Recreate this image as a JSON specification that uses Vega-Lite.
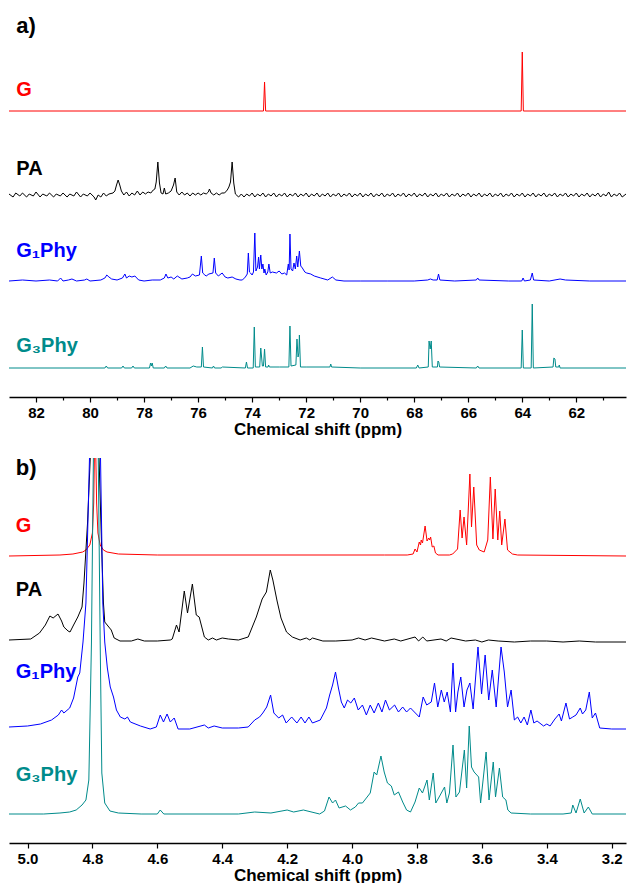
{
"$schema": "https://vega.github.io/schema/vega-lite/v6.json",
"autosize": {"type": "pad"},
"padding": {"left": 9, "top": 14, "right": 4, "bottom": 0},
"bounds": "flush",
"spacing": 61,
"config": {
  "view": {"stroke": null},
  "font": "Liberation Sans",
  "axis": {"grid": false, "domainColor": "#000000", "domainWidth": 1.5, "tickColor": "#000000", "tickWidth": 1.2,
    "labelFont": "Liberation Sans", "labelFontSize": 15, "labelFontWeight": "bold", "labelColor": "#000000", "labelPadding": 3,
    "titleFont": "Liberation Sans", "titleFontSize": 17, "titleFontWeight": "bold", "titleColor": "#000000", "titlePadding": 1}
},
"datasets": {
  "tags": [{"panel": "a", "t": "a)", "ppm": 82.73, "v": 371}, {"panel": "b", "t": "b)", "ppm": 5.036, "v": 375}],
  "labA": [{"s": "G", "t": "G", "ppm": 82.73, "v": 307}, {"s": "PA", "t": "PA", "ppm": 82.73, "v": 228}, {"s": "G1Phy", "t": "G₁Phy", "ppm": 82.73, "v": 146}, {"s": "G3Phy", "t": "G₃Phy", "ppm": 82.73, "v": 51}],
  "labB": [{"s": "G", "t": "G", "ppm": 5.036, "v": 317}, {"s": "PA", "t": "PA", "ppm": 5.036, "v": 253}, {"s": "G1Phy", "t": "G₁Phy", "ppm": 5.036, "v": 171}, {"s": "G3Phy", "t": "G₃Phy", "ppm": 5.036, "v": 68}],
  "specA": [
{"s":"G","ppm":83.0,"v":286},{"s":"G","ppm":73.58,"v":286},{"s":"G","ppm":73.54,"v":315},{"s":"G","ppm":73.5,"v":286},{"s":"G","ppm":64.04,"v":286},{"s":"G","ppm":64.0,"v":345},{"s":"G","ppm":63.96,"v":286},{"s":"G","ppm":60.16,"v":286},
{"s":"PA","ppm":83.0,"v":203},{"s":"PA","ppm":82.85,"v":200},{"s":"PA","ppm":82.75,"v":204},{"s":"PA","ppm":82.6,"v":201},{"s":"PA","ppm":82.5,"v":204},{"s":"PA","ppm":82.35,"v":200},{"s":"PA","ppm":82.25,"v":203},{"s":"PA","ppm":82.1,"v":201},{"s":"PA","ppm":82.0,"v":205},{"s":"PA","ppm":81.85,"v":200},{"s":"PA","ppm":81.75,"v":203},{"s":"PA","ppm":81.6,"v":201},{"s":"PA","ppm":81.5,"v":204},{"s":"PA","ppm":81.35,"v":200},{"s":"PA","ppm":81.25,"v":203},{"s":"PA","ppm":81.1,"v":201},{"s":"PA","ppm":81.0,"v":204},{"s":"PA","ppm":80.85,"v":200},{"s":"PA","ppm":80.75,"v":203},{"s":"PA","ppm":80.6,"v":201},{"s":"PA","ppm":80.5,"v":205},{"s":"PA","ppm":80.35,"v":200},{"s":"PA","ppm":80.25,"v":203},{"s":"PA","ppm":80.1,"v":201},{"s":"PA","ppm":80.0,"v":204},{"s":"PA","ppm":79.85,"v":200},{"s":"PA","ppm":79.79,"v":197},{"s":"PA","ppm":79.7,"v":202},{"s":"PA","ppm":79.6,"v":200},{"s":"PA","ppm":79.5,"v":204},{"s":"PA","ppm":79.4,"v":201},{"s":"PA","ppm":79.3,"v":203},{"s":"PA","ppm":79.15,"v":204},{"s":"PA","ppm":79.08,"v":206},{"s":"PA","ppm":79.02,"v":212},{"s":"PA","ppm":78.96,"v":217},{"s":"PA","ppm":78.9,"v":212},{"s":"PA","ppm":78.84,"v":206},{"s":"PA","ppm":78.75,"v":202},{"s":"PA","ppm":78.65,"v":205},{"s":"PA","ppm":78.55,"v":201},{"s":"PA","ppm":78.45,"v":204},{"s":"PA","ppm":78.35,"v":202},{"s":"PA","ppm":78.25,"v":206},{"s":"PA","ppm":78.15,"v":202},{"s":"PA","ppm":78.05,"v":205},{"s":"PA","ppm":77.95,"v":203},{"s":"PA","ppm":77.85,"v":205},{"s":"PA","ppm":77.75,"v":204},{"s":"PA","ppm":77.66,"v":207},{"s":"PA","ppm":77.6,"v":208},{"s":"PA","ppm":77.55,"v":215},{"s":"PA","ppm":77.49,"v":235},{"s":"PA","ppm":77.43,"v":214},{"s":"PA","ppm":77.37,"v":204},{"s":"PA","ppm":77.3,"v":203},{"s":"PA","ppm":77.25,"v":209},{"s":"PA","ppm":77.2,"v":203},{"s":"PA","ppm":77.1,"v":204},{"s":"PA","ppm":77.0,"v":206},{"s":"PA","ppm":76.91,"v":212},{"s":"PA","ppm":76.85,"v":219},{"s":"PA","ppm":76.79,"v":205},{"s":"PA","ppm":76.7,"v":202},{"s":"PA","ppm":76.6,"v":205},{"s":"PA","ppm":76.5,"v":202},{"s":"PA","ppm":76.4,"v":204},{"s":"PA","ppm":76.3,"v":201},{"s":"PA","ppm":76.2,"v":204},{"s":"PA","ppm":76.1,"v":202},{"s":"PA","ppm":76.0,"v":204},{"s":"PA","ppm":75.9,"v":202},{"s":"PA","ppm":75.8,"v":204},{"s":"PA","ppm":75.7,"v":203},{"s":"PA","ppm":75.62,"v":205},{"s":"PA","ppm":75.58,"v":208},{"s":"PA","ppm":75.52,"v":204},{"s":"PA","ppm":75.42,"v":202},{"s":"PA","ppm":75.32,"v":204},{"s":"PA","ppm":75.22,"v":202},{"s":"PA","ppm":75.12,"v":204},{"s":"PA","ppm":75.02,"v":204},{"s":"PA","ppm":74.92,"v":207},{"s":"PA","ppm":74.86,"v":210},{"s":"PA","ppm":74.8,"v":215},{"s":"PA","ppm":74.74,"v":235},{"s":"PA","ppm":74.68,"v":214},{"s":"PA","ppm":74.62,"v":203},{"s":"PA","ppm":74.5,"v":200},{"s":"PA","ppm":74.4,"v":203},{"s":"PA","ppm":74.3,"v":200},{"s":"PA","ppm":74.2,"v":203},{"s":"PA","ppm":74.1,"v":201},{"s":"PA","ppm":74.0,"v":204},{"s":"PA","ppm":73.9,"v":200},{"s":"PA","ppm":73.8,"v":203},{"s":"PA","ppm":73.7,"v":201},{"s":"PA","ppm":73.6,"v":204},{"s":"PA","ppm":73.5,"v":200},{"s":"PA","ppm":73.4,"v":203},{"s":"PA","ppm":73.3,"v":201},{"s":"PA","ppm":73.2,"v":204},{"s":"PA","ppm":73.1,"v":200},{"s":"PA","ppm":73.0,"v":203},{"s":"PA","ppm":72.9,"v":201},{"s":"PA","ppm":72.8,"v":204},{"s":"PA","ppm":72.7,"v":200},{"s":"PA","ppm":72.6,"v":203},{"s":"PA","ppm":72.5,"v":201},{"s":"PA","ppm":72.4,"v":204},{"s":"PA","ppm":72.3,"v":200},{"s":"PA","ppm":72.2,"v":203},{"s":"PA","ppm":72.1,"v":201},{"s":"PA","ppm":72.0,"v":204},{"s":"PA","ppm":71.9,"v":200},{"s":"PA","ppm":71.8,"v":203},{"s":"PA","ppm":71.7,"v":201},{"s":"PA","ppm":71.6,"v":204},{"s":"PA","ppm":71.5,"v":200},{"s":"PA","ppm":71.4,"v":203},{"s":"PA","ppm":71.3,"v":201},{"s":"PA","ppm":71.2,"v":204},{"s":"PA","ppm":71.1,"v":200},{"s":"PA","ppm":71.0,"v":203},{"s":"PA","ppm":70.9,"v":201},{"s":"PA","ppm":70.8,"v":204},{"s":"PA","ppm":70.7,"v":200},{"s":"PA","ppm":70.6,"v":203},{"s":"PA","ppm":70.5,"v":201},{"s":"PA","ppm":70.4,"v":204},{"s":"PA","ppm":70.3,"v":200},{"s":"PA","ppm":70.2,"v":203},{"s":"PA","ppm":70.1,"v":201},{"s":"PA","ppm":70.0,"v":204},{"s":"PA","ppm":69.9,"v":200},{"s":"PA","ppm":69.8,"v":203},{"s":"PA","ppm":69.7,"v":201},{"s":"PA","ppm":69.6,"v":204},{"s":"PA","ppm":69.5,"v":200},{"s":"PA","ppm":69.4,"v":203},{"s":"PA","ppm":69.3,"v":201},{"s":"PA","ppm":69.2,"v":204},{"s":"PA","ppm":69.1,"v":200},{"s":"PA","ppm":69.0,"v":203},{"s":"PA","ppm":68.9,"v":201},{"s":"PA","ppm":68.8,"v":204},{"s":"PA","ppm":68.7,"v":200},{"s":"PA","ppm":68.6,"v":203},{"s":"PA","ppm":68.5,"v":201},{"s":"PA","ppm":68.4,"v":204},{"s":"PA","ppm":68.3,"v":200},{"s":"PA","ppm":68.2,"v":203},{"s":"PA","ppm":68.1,"v":201},{"s":"PA","ppm":68.0,"v":204},{"s":"PA","ppm":67.9,"v":200},{"s":"PA","ppm":67.8,"v":203},{"s":"PA","ppm":67.7,"v":201},{"s":"PA","ppm":67.6,"v":204},{"s":"PA","ppm":67.5,"v":200},{"s":"PA","ppm":67.4,"v":203},{"s":"PA","ppm":67.3,"v":201},{"s":"PA","ppm":67.2,"v":204},{"s":"PA","ppm":67.1,"v":200},{"s":"PA","ppm":67.0,"v":203},{"s":"PA","ppm":66.9,"v":201},{"s":"PA","ppm":66.8,"v":204},{"s":"PA","ppm":66.7,"v":200},{"s":"PA","ppm":66.6,"v":203},{"s":"PA","ppm":66.5,"v":201},{"s":"PA","ppm":66.4,"v":204},{"s":"PA","ppm":66.3,"v":200},{"s":"PA","ppm":66.2,"v":203},{"s":"PA","ppm":66.1,"v":201},{"s":"PA","ppm":66.0,"v":204},{"s":"PA","ppm":65.9,"v":200},{"s":"PA","ppm":65.8,"v":203},{"s":"PA","ppm":65.7,"v":201},{"s":"PA","ppm":65.6,"v":204},{"s":"PA","ppm":65.5,"v":200},{"s":"PA","ppm":65.4,"v":203},{"s":"PA","ppm":65.3,"v":201},{"s":"PA","ppm":65.2,"v":204},{"s":"PA","ppm":65.1,"v":200},{"s":"PA","ppm":65.0,"v":203},{"s":"PA","ppm":64.9,"v":201},{"s":"PA","ppm":64.8,"v":204},{"s":"PA","ppm":64.7,"v":200},{"s":"PA","ppm":64.6,"v":203},{"s":"PA","ppm":64.5,"v":201},{"s":"PA","ppm":64.4,"v":204},{"s":"PA","ppm":64.3,"v":200},{"s":"PA","ppm":64.2,"v":203},{"s":"PA","ppm":64.1,"v":201},{"s":"PA","ppm":64.0,"v":204},{"s":"PA","ppm":63.9,"v":200},{"s":"PA","ppm":63.8,"v":203},{"s":"PA","ppm":63.7,"v":201},{"s":"PA","ppm":63.6,"v":204},{"s":"PA","ppm":63.5,"v":200},{"s":"PA","ppm":63.4,"v":203},{"s":"PA","ppm":63.3,"v":201},{"s":"PA","ppm":63.2,"v":204},{"s":"PA","ppm":63.1,"v":200},{"s":"PA","ppm":63.0,"v":203},{"s":"PA","ppm":62.9,"v":201},{"s":"PA","ppm":62.8,"v":204},{"s":"PA","ppm":62.7,"v":200},{"s":"PA","ppm":62.6,"v":203},{"s":"PA","ppm":62.5,"v":201},{"s":"PA","ppm":62.4,"v":204},{"s":"PA","ppm":62.3,"v":200},{"s":"PA","ppm":62.2,"v":203},{"s":"PA","ppm":62.1,"v":201},{"s":"PA","ppm":62.0,"v":204},{"s":"PA","ppm":61.9,"v":200},{"s":"PA","ppm":61.8,"v":203},{"s":"PA","ppm":61.7,"v":201},{"s":"PA","ppm":61.6,"v":204},{"s":"PA","ppm":61.5,"v":200},{"s":"PA","ppm":61.4,"v":203},{"s":"PA","ppm":61.3,"v":201},{"s":"PA","ppm":61.2,"v":204},{"s":"PA","ppm":61.1,"v":200},{"s":"PA","ppm":61.0,"v":203},{"s":"PA","ppm":60.9,"v":201},{"s":"PA","ppm":60.8,"v":205},{"s":"PA","ppm":60.7,"v":200},{"s":"PA","ppm":60.6,"v":203},{"s":"PA","ppm":60.5,"v":201},{"s":"PA","ppm":60.4,"v":204},{"s":"PA","ppm":60.3,"v":200},{"s":"PA","ppm":60.16,"v":203},
{"s":"G1Phy","ppm":83.0,"v":116},{"s":"G1Phy","ppm":82.5,"v":117},{"s":"G1Phy","ppm":82.0,"v":116},{"s":"G1Phy","ppm":81.5,"v":117},{"s":"G1Phy","ppm":81.2,"v":116},{"s":"G1Phy","ppm":81.09,"v":119},{"s":"G1Phy","ppm":81.0,"v":116},{"s":"G1Phy","ppm":80.8,"v":117},{"s":"G1Phy","ppm":80.67,"v":118},{"s":"G1Phy","ppm":80.5,"v":116},{"s":"G1Phy","ppm":80.2,"v":117},{"s":"G1Phy","ppm":80.12,"v":118},{"s":"G1Phy","ppm":80.0,"v":116},{"s":"G1Phy","ppm":79.6,"v":117},{"s":"G1Phy","ppm":79.45,"v":119},{"s":"G1Phy","ppm":79.38,"v":122},{"s":"G1Phy","ppm":79.3,"v":120},{"s":"G1Phy","ppm":79.2,"v":118},{"s":"G1Phy","ppm":79.0,"v":117},{"s":"G1Phy","ppm":78.8,"v":119},{"s":"G1Phy","ppm":78.71,"v":123},{"s":"G1Phy","ppm":78.65,"v":119},{"s":"G1Phy","ppm":78.55,"v":121},{"s":"G1Phy","ppm":78.45,"v":120},{"s":"G1Phy","ppm":78.34,"v":121},{"s":"G1Phy","ppm":78.2,"v":117},{"s":"G1Phy","ppm":78.0,"v":116},{"s":"G1Phy","ppm":77.7,"v":117},{"s":"G1Phy","ppm":77.4,"v":117},{"s":"G1Phy","ppm":77.25,"v":119},{"s":"G1Phy","ppm":77.19,"v":123},{"s":"G1Phy","ppm":77.12,"v":119},{"s":"G1Phy","ppm":77.0,"v":120},{"s":"G1Phy","ppm":76.9,"v":118},{"s":"G1Phy","ppm":76.77,"v":121},{"s":"G1Phy","ppm":76.6,"v":118},{"s":"G1Phy","ppm":76.4,"v":119},{"s":"G1Phy","ppm":76.3,"v":120},{"s":"G1Phy","ppm":76.21,"v":123},{"s":"G1Phy","ppm":76.1,"v":121},{"s":"G1Phy","ppm":75.95,"v":122},{"s":"G1Phy","ppm":75.88,"v":141},{"s":"G1Phy","ppm":75.83,"v":124},{"s":"G1Phy","ppm":75.75,"v":122},{"s":"G1Phy","ppm":75.7,"v":121},{"s":"G1Phy","ppm":75.6,"v":123},{"s":"G1Phy","ppm":75.45,"v":124},{"s":"G1Phy","ppm":75.4,"v":139},{"s":"G1Phy","ppm":75.35,"v":124},{"s":"G1Phy","ppm":75.25,"v":121},{"s":"G1Phy","ppm":75.11,"v":124},{"s":"G1Phy","ppm":75.0,"v":120},{"s":"G1Phy","ppm":74.9,"v":119},{"s":"G1Phy","ppm":74.74,"v":120},{"s":"G1Phy","ppm":74.6,"v":118},{"s":"G1Phy","ppm":74.45,"v":117},{"s":"G1Phy","ppm":74.36,"v":117},{"s":"G1Phy","ppm":74.25,"v":120},{"s":"G1Phy","ppm":74.18,"v":123},{"s":"G1Phy","ppm":74.14,"v":144},{"s":"G1Phy","ppm":74.1,"v":125},{"s":"G1Phy","ppm":74.06,"v":124},{"s":"G1Phy","ppm":74.0,"v":122},{"s":"G1Phy","ppm":73.95,"v":125},{"s":"G1Phy","ppm":73.9,"v":164},{"s":"G1Phy","ppm":73.86,"v":126},{"s":"G1Phy","ppm":73.8,"v":130},{"s":"G1Phy","ppm":73.76,"v":140},{"s":"G1Phy","ppm":73.73,"v":128},{"s":"G1Phy","ppm":73.68,"v":142},{"s":"G1Phy","ppm":73.64,"v":128},{"s":"G1Phy","ppm":73.6,"v":133},{"s":"G1Phy","ppm":73.56,"v":124},{"s":"G1Phy","ppm":73.53,"v":128},{"s":"G1Phy","ppm":73.48,"v":122},{"s":"G1Phy","ppm":73.42,"v":125},{"s":"G1Phy","ppm":73.38,"v":133},{"s":"G1Phy","ppm":73.33,"v":124},{"s":"G1Phy","ppm":73.25,"v":125},{"s":"G1Phy","ppm":73.1,"v":124},{"s":"G1Phy","ppm":73.0,"v":126},{"s":"G1Phy","ppm":72.9,"v":123},{"s":"G1Phy","ppm":72.8,"v":124},{"s":"G1Phy","ppm":72.72,"v":122},{"s":"G1Phy","ppm":72.66,"v":133},{"s":"G1Phy","ppm":72.63,"v":127},{"s":"G1Phy","ppm":72.6,"v":163},{"s":"G1Phy","ppm":72.56,"v":128},{"s":"G1Phy","ppm":72.5,"v":126},{"s":"G1Phy","ppm":72.45,"v":134},{"s":"G1Phy","ppm":72.4,"v":128},{"s":"G1Phy","ppm":72.35,"v":141},{"s":"G1Phy","ppm":72.31,"v":130},{"s":"G1Phy","ppm":72.25,"v":146},{"s":"G1Phy","ppm":72.2,"v":131},{"s":"G1Phy","ppm":72.14,"v":129},{"s":"G1Phy","ppm":72.05,"v":125},{"s":"G1Phy","ppm":71.98,"v":124},{"s":"G1Phy","ppm":71.83,"v":123},{"s":"G1Phy","ppm":71.7,"v":121},{"s":"G1Phy","ppm":71.46,"v":119},{"s":"G1Phy","ppm":71.2,"v":117},{"s":"G1Phy","ppm":71.03,"v":120},{"s":"G1Phy","ppm":70.9,"v":117},{"s":"G1Phy","ppm":70.6,"v":116},{"s":"G1Phy","ppm":70.0,"v":116},{"s":"G1Phy","ppm":69.0,"v":116},{"s":"G1Phy","ppm":68.0,"v":116},{"s":"G1Phy","ppm":67.5,"v":117},{"s":"G1Phy","ppm":67.4,"v":118},{"s":"G1Phy","ppm":67.3,"v":117},{"s":"G1Phy","ppm":67.15,"v":117},{"s":"G1Phy","ppm":67.1,"v":123},{"s":"G1Phy","ppm":67.05,"v":117},{"s":"G1Phy","ppm":66.5,"v":116},{"s":"G1Phy","ppm":65.7,"v":117},{"s":"G1Phy","ppm":65.65,"v":119},{"s":"G1Phy","ppm":65.6,"v":117},{"s":"G1Phy","ppm":64.5,"v":116},{"s":"G1Phy","ppm":64.02,"v":116},{"s":"G1Phy","ppm":63.97,"v":119},{"s":"G1Phy","ppm":63.92,"v":116},{"s":"G1Phy","ppm":63.7,"v":117},{"s":"G1Phy","ppm":63.63,"v":124},{"s":"G1Phy","ppm":63.58,"v":117},{"s":"G1Phy","ppm":63.0,"v":116},{"s":"G1Phy","ppm":62.6,"v":118},{"s":"G1Phy","ppm":62.4,"v":117},{"s":"G1Phy","ppm":61.5,"v":116},{"s":"G1Phy","ppm":60.16,"v":116},
{"s":"G3Phy","ppm":83.0,"v":29},{"s":"G3Phy","ppm":81.0,"v":29},{"s":"G3Phy","ppm":79.45,"v":29},{"s":"G3Phy","ppm":79.4,"v":31},{"s":"G3Phy","ppm":79.35,"v":29},{"s":"G3Phy","ppm":78.83,"v":29},{"s":"G3Phy","ppm":78.78,"v":31},{"s":"G3Phy","ppm":78.73,"v":29},{"s":"G3Phy","ppm":78.46,"v":29},{"s":"G3Phy","ppm":78.41,"v":31},{"s":"G3Phy","ppm":78.36,"v":29},{"s":"G3Phy","ppm":77.8,"v":29},{"s":"G3Phy","ppm":77.76,"v":34},{"s":"G3Phy","ppm":77.73,"v":31},{"s":"G3Phy","ppm":77.7,"v":34},{"s":"G3Phy","ppm":77.66,"v":29},{"s":"G3Phy","ppm":77.25,"v":29},{"s":"G3Phy","ppm":77.2,"v":31},{"s":"G3Phy","ppm":77.15,"v":29},{"s":"G3Phy","ppm":76.3,"v":29},{"s":"G3Phy","ppm":76.18,"v":31},{"s":"G3Phy","ppm":76.05,"v":30},{"s":"G3Phy","ppm":75.88,"v":30},{"s":"G3Phy","ppm":75.84,"v":50},{"s":"G3Phy","ppm":75.8,"v":30},{"s":"G3Phy","ppm":75.47,"v":29},{"s":"G3Phy","ppm":75.43,"v":31},{"s":"G3Phy","ppm":75.39,"v":29},{"s":"G3Phy","ppm":75.15,"v":29},{"s":"G3Phy","ppm":75.1,"v":30},{"s":"G3Phy","ppm":74.25,"v":29},{"s":"G3Phy","ppm":74.21,"v":35},{"s":"G3Phy","ppm":74.17,"v":29},{"s":"G3Phy","ppm":73.96,"v":29},{"s":"G3Phy","ppm":73.92,"v":70},{"s":"G3Phy","ppm":73.88,"v":30},{"s":"G3Phy","ppm":73.72,"v":30},{"s":"G3Phy","ppm":73.68,"v":49},{"s":"G3Phy","ppm":73.62,"v":31},{"s":"G3Phy","ppm":73.58,"v":31},{"s":"G3Phy","ppm":73.54,"v":48},{"s":"G3Phy","ppm":73.5,"v":30},{"s":"G3Phy","ppm":73.41,"v":30},{"s":"G3Phy","ppm":73.39,"v":32},{"s":"G3Phy","ppm":73.36,"v":30},{"s":"G3Phy","ppm":72.99,"v":30},{"s":"G3Phy","ppm":72.64,"v":30},{"s":"G3Phy","ppm":72.6,"v":71},{"s":"G3Phy","ppm":72.56,"v":31},{"s":"G3Phy","ppm":72.38,"v":32},{"s":"G3Phy","ppm":72.34,"v":58},{"s":"G3Phy","ppm":72.3,"v":40},{"s":"G3Phy","ppm":72.27,"v":44},{"s":"G3Phy","ppm":72.25,"v":62},{"s":"G3Phy","ppm":72.21,"v":30},{"s":"G3Phy","ppm":72.0,"v":30},{"s":"G3Phy","ppm":71.12,"v":30},{"s":"G3Phy","ppm":71.09,"v":33},{"s":"G3Phy","ppm":71.06,"v":30},{"s":"G3Phy","ppm":70.0,"v":29},{"s":"G3Phy","ppm":67.92,"v":29},{"s":"G3Phy","ppm":67.87,"v":32},{"s":"G3Phy","ppm":67.82,"v":29},{"s":"G3Phy","ppm":67.48,"v":30},{"s":"G3Phy","ppm":67.45,"v":56},{"s":"G3Phy","ppm":67.41,"v":48},{"s":"G3Phy","ppm":67.37,"v":56},{"s":"G3Phy","ppm":67.33,"v":30},{"s":"G3Phy","ppm":67.14,"v":30},{"s":"G3Phy","ppm":67.12,"v":36},{"s":"G3Phy","ppm":67.09,"v":35},{"s":"G3Phy","ppm":67.06,"v":30},{"s":"G3Phy","ppm":65.7,"v":29},{"s":"G3Phy","ppm":65.65,"v":31},{"s":"G3Phy","ppm":65.6,"v":29},{"s":"G3Phy","ppm":64.04,"v":29},{"s":"G3Phy","ppm":64.0,"v":67},{"s":"G3Phy","ppm":63.96,"v":29},{"s":"G3Phy","ppm":63.67,"v":29},{"s":"G3Phy","ppm":63.63,"v":93},{"s":"G3Phy","ppm":63.59,"v":29},{"s":"G3Phy","ppm":62.86,"v":30},{"s":"G3Phy","ppm":62.83,"v":39},{"s":"G3Phy","ppm":62.79,"v":38},{"s":"G3Phy","ppm":62.76,"v":30},{"s":"G3Phy","ppm":62.65,"v":30},{"s":"G3Phy","ppm":62.63,"v":32},{"s":"G3Phy","ppm":62.6,"v":29},{"s":"G3Phy","ppm":60.16,"v":29}
  ],
  "specB": [
{"s":"G","ppm":5.057,"v":287},{"s":"G","ppm":4.9,"v":288},{"s":"G","ppm":4.86,"v":289},{"s":"G","ppm":4.83,"v":291},{"s":"G","ppm":4.82,"v":293},{"s":"G","ppm":4.808,"v":298},{"s":"G","ppm":4.8,"v":310},{"s":"G","ppm":4.796,"v":340},{"s":"G","ppm":4.7935,"v":395},{"s":"G","ppm":4.79,"v":395},{"s":"G","ppm":4.787,"v":340},{"s":"G","ppm":4.783,"v":310},{"s":"G","ppm":4.776,"v":298},{"s":"G","ppm":4.766,"v":293},{"s":"G","ppm":4.755,"v":291},{"s":"G","ppm":4.72,"v":289},{"s":"G","ppm":4.6,"v":288},{"s":"G","ppm":3.9,"v":288},{"s":"G","ppm":3.83,"v":288},{"s":"G","ppm":3.812,"v":289},{"s":"G","ppm":3.806,"v":294},{"s":"G","ppm":3.8,"v":291},{"s":"G","ppm":3.793,"v":301},{"s":"G","ppm":3.789,"v":298},{"s":"G","ppm":3.787,"v":303},{"s":"G","ppm":3.783,"v":300},{"s":"G","ppm":3.775,"v":317},{"s":"G","ppm":3.769,"v":302},{"s":"G","ppm":3.764,"v":305},{"s":"G","ppm":3.761,"v":303},{"s":"G","ppm":3.758,"v":306},{"s":"G","ppm":3.753,"v":296},{"s":"G","ppm":3.748,"v":297},{"s":"G","ppm":3.743,"v":290},{"s":"G","ppm":3.735,"v":288},{"s":"G","ppm":3.7,"v":288},{"s":"G","ppm":3.69,"v":289},{"s":"G","ppm":3.675,"v":294},{"s":"G","ppm":3.667,"v":333},{"s":"G","ppm":3.661,"v":305},{"s":"G","ppm":3.655,"v":326},{"s":"G","ppm":3.647,"v":298},{"s":"G","ppm":3.637,"v":369},{"s":"G","ppm":3.632,"v":316},{"s":"G","ppm":3.625,"v":356},{"s":"G","ppm":3.616,"v":298},{"s":"G","ppm":3.608,"v":293},{"s":"G","ppm":3.593,"v":291},{"s":"G","ppm":3.582,"v":303},{"s":"G","ppm":3.574,"v":366},{"s":"G","ppm":3.566,"v":304},{"s":"G","ppm":3.559,"v":354},{"s":"G","ppm":3.551,"v":303},{"s":"G","ppm":3.545,"v":332},{"s":"G","ppm":3.539,"v":298},{"s":"G","ppm":3.529,"v":324},{"s":"G","ppm":3.521,"v":293},{"s":"G","ppm":3.506,"v":289},{"s":"G","ppm":3.49,"v":288},{"s":"G","ppm":3.156,"v":287},
{"s":"PA","ppm":5.057,"v":203},{"s":"PA","ppm":4.99,"v":204},{"s":"PA","ppm":4.963,"v":210},{"s":"PA","ppm":4.945,"v":218},{"s":"PA","ppm":4.931,"v":227},{"s":"PA","ppm":4.921,"v":225},{"s":"PA","ppm":4.906,"v":229},{"s":"PA","ppm":4.895,"v":222},{"s":"PA","ppm":4.888,"v":216},{"s":"PA","ppm":4.875,"v":212},{"s":"PA","ppm":4.869,"v":211},{"s":"PA","ppm":4.858,"v":218},{"s":"PA","ppm":4.845,"v":226},{"s":"PA","ppm":4.832,"v":236},{"s":"PA","ppm":4.826,"v":260},{"s":"PA","ppm":4.815,"v":320},{"s":"PA","ppm":4.806,"v":390},{"s":"PA","ppm":4.793,"v":398},{"s":"PA","ppm":4.78,"v":390},{"s":"PA","ppm":4.772,"v":300},{"s":"PA","ppm":4.766,"v":240},{"s":"PA","ppm":4.762,"v":221},{"s":"PA","ppm":4.752,"v":217},{"s":"PA","ppm":4.742,"v":213},{"s":"PA","ppm":4.733,"v":205},{"s":"PA","ppm":4.715,"v":202},{"s":"PA","ppm":4.68,"v":202},{"s":"PA","ppm":4.66,"v":204},{"s":"PA","ppm":4.64,"v":202},{"s":"PA","ppm":4.6,"v":202},{"s":"PA","ppm":4.56,"v":203},{"s":"PA","ppm":4.554,"v":204},{"s":"PA","ppm":4.541,"v":218},{"s":"PA","ppm":4.533,"v":211},{"s":"PA","ppm":4.517,"v":252},{"s":"PA","ppm":4.507,"v":230},{"s":"PA","ppm":4.492,"v":259},{"s":"PA","ppm":4.48,"v":228},{"s":"PA","ppm":4.471,"v":226},{"s":"PA","ppm":4.455,"v":206},{"s":"PA","ppm":4.443,"v":203},{"s":"PA","ppm":4.43,"v":205},{"s":"PA","ppm":4.418,"v":203},{"s":"PA","ppm":4.4,"v":205},{"s":"PA","ppm":4.381,"v":204},{"s":"PA","ppm":4.35,"v":203},{"s":"PA","ppm":4.32,"v":206},{"s":"PA","ppm":4.295,"v":226},{"s":"PA","ppm":4.277,"v":244},{"s":"PA","ppm":4.264,"v":251},{"s":"PA","ppm":4.252,"v":273},{"s":"PA","ppm":4.244,"v":263},{"s":"PA","ppm":4.231,"v":242},{"s":"PA","ppm":4.219,"v":225},{"s":"PA","ppm":4.202,"v":211},{"s":"PA","ppm":4.184,"v":206},{"s":"PA","ppm":4.16,"v":203},{"s":"PA","ppm":4.141,"v":205},{"s":"PA","ppm":4.13,"v":203},{"s":"PA","ppm":4.122,"v":205},{"s":"PA","ppm":4.09,"v":202},{"s":"PA","ppm":4.05,"v":202},{"s":"PA","ppm":4.0,"v":203},{"s":"PA","ppm":3.98,"v":205},{"s":"PA","ppm":3.96,"v":203},{"s":"PA","ppm":3.94,"v":205},{"s":"PA","ppm":3.9,"v":202},{"s":"PA","ppm":3.87,"v":204},{"s":"PA","ppm":3.85,"v":202},{"s":"PA","ppm":3.806,"v":206},{"s":"PA","ppm":3.795,"v":202},{"s":"PA","ppm":3.782,"v":206},{"s":"PA","ppm":3.77,"v":202},{"s":"PA","ppm":3.726,"v":204},{"s":"PA","ppm":3.71,"v":202},{"s":"PA","ppm":3.695,"v":205},{"s":"PA","ppm":3.65,"v":202},{"s":"PA","ppm":3.62,"v":203},{"s":"PA","ppm":3.6,"v":201},{"s":"PA","ppm":3.58,"v":203},{"s":"PA","ppm":3.55,"v":202},{"s":"PA","ppm":3.5,"v":201},{"s":"PA","ppm":3.45,"v":202},{"s":"PA","ppm":3.4,"v":202},{"s":"PA","ppm":3.35,"v":201},{"s":"PA","ppm":3.3,"v":202},{"s":"PA","ppm":3.25,"v":201},{"s":"PA","ppm":3.156,"v":201},
{"s":"G1Phy","ppm":5.057,"v":116},{"s":"G1Phy","ppm":5.0,"v":117},{"s":"G1Phy","ppm":4.96,"v":119},{"s":"G1Phy","ppm":4.926,"v":123},{"s":"G1Phy","ppm":4.905,"v":128},{"s":"G1Phy","ppm":4.895,"v":133},{"s":"G1Phy","ppm":4.888,"v":130},{"s":"G1Phy","ppm":4.87,"v":135},{"s":"G1Phy","ppm":4.858,"v":145},{"s":"G1Phy","ppm":4.845,"v":166},{"s":"G1Phy","ppm":4.839,"v":170},{"s":"G1Phy","ppm":4.829,"v":201},{"s":"G1Phy","ppm":4.82,"v":240},{"s":"G1Phy","ppm":4.809,"v":385},{"s":"G1Phy","ppm":4.805,"v":398},{"s":"G1Phy","ppm":4.78,"v":398},{"s":"G1Phy","ppm":4.775,"v":385},{"s":"G1Phy","ppm":4.768,"v":240},{"s":"G1Phy","ppm":4.762,"v":201},{"s":"G1Phy","ppm":4.754,"v":175},{"s":"G1Phy","ppm":4.745,"v":156},{"s":"G1Phy","ppm":4.735,"v":146},{"s":"G1Phy","ppm":4.726,"v":133},{"s":"G1Phy","ppm":4.714,"v":126},{"s":"G1Phy","ppm":4.7,"v":124},{"s":"G1Phy","ppm":4.692,"v":126},{"s":"G1Phy","ppm":4.683,"v":121},{"s":"G1Phy","ppm":4.652,"v":117},{"s":"G1Phy","ppm":4.622,"v":114},{"s":"G1Phy","ppm":4.603,"v":116},{"s":"G1Phy","ppm":4.591,"v":128},{"s":"G1Phy","ppm":4.581,"v":121},{"s":"G1Phy","ppm":4.57,"v":129},{"s":"G1Phy","ppm":4.56,"v":121},{"s":"G1Phy","ppm":4.548,"v":125},{"s":"G1Phy","ppm":4.536,"v":114},{"s":"G1Phy","ppm":4.5,"v":114},{"s":"G1Phy","ppm":4.455,"v":118},{"s":"G1Phy","ppm":4.443,"v":115},{"s":"G1Phy","ppm":4.425,"v":117},{"s":"G1Phy","ppm":4.4,"v":115},{"s":"G1Phy","ppm":4.35,"v":115},{"s":"G1Phy","ppm":4.32,"v":116},{"s":"G1Phy","ppm":4.3,"v":123},{"s":"G1Phy","ppm":4.285,"v":126},{"s":"G1Phy","ppm":4.275,"v":130},{"s":"G1Phy","ppm":4.263,"v":136},{"s":"G1Phy","ppm":4.251,"v":148},{"s":"G1Phy","ppm":4.241,"v":130},{"s":"G1Phy","ppm":4.226,"v":125},{"s":"G1Phy","ppm":4.214,"v":128},{"s":"G1Phy","ppm":4.203,"v":120},{"s":"G1Phy","ppm":4.186,"v":126},{"s":"G1Phy","ppm":4.17,"v":120},{"s":"G1Phy","ppm":4.157,"v":126},{"s":"G1Phy","ppm":4.145,"v":120},{"s":"G1Phy","ppm":4.133,"v":126},{"s":"G1Phy","ppm":4.122,"v":120},{"s":"G1Phy","ppm":4.098,"v":123},{"s":"G1Phy","ppm":4.079,"v":135},{"s":"G1Phy","ppm":4.069,"v":148},{"s":"G1Phy","ppm":4.06,"v":158},{"s":"G1Phy","ppm":4.051,"v":171},{"s":"G1Phy","ppm":4.042,"v":155},{"s":"G1Phy","ppm":4.033,"v":141},{"s":"G1Phy","ppm":4.024,"v":135},{"s":"G1Phy","ppm":4.014,"v":143},{"s":"G1Phy","ppm":4.004,"v":140},{"s":"G1Phy","ppm":3.993,"v":145},{"s":"G1Phy","ppm":3.981,"v":133},{"s":"G1Phy","ppm":3.968,"v":138},{"s":"G1Phy","ppm":3.956,"v":128},{"s":"G1Phy","ppm":3.944,"v":138},{"s":"G1Phy","ppm":3.932,"v":130},{"s":"G1Phy","ppm":3.919,"v":140},{"s":"G1Phy","ppm":3.908,"v":131},{"s":"G1Phy","ppm":3.897,"v":143},{"s":"G1Phy","ppm":3.885,"v":133},{"s":"G1Phy","ppm":3.869,"v":138},{"s":"G1Phy","ppm":3.857,"v":131},{"s":"G1Phy","ppm":3.844,"v":136},{"s":"G1Phy","ppm":3.832,"v":131},{"s":"G1Phy","ppm":3.82,"v":135},{"s":"G1Phy","ppm":3.808,"v":131},{"s":"G1Phy","ppm":3.793,"v":126},{"s":"G1Phy","ppm":3.781,"v":146},{"s":"G1Phy","ppm":3.77,"v":138},{"s":"G1Phy","ppm":3.756,"v":141},{"s":"G1Phy","ppm":3.746,"v":160},{"s":"G1Phy","ppm":3.736,"v":136},{"s":"G1Phy","ppm":3.725,"v":153},{"s":"G1Phy","ppm":3.716,"v":141},{"s":"G1Phy","ppm":3.707,"v":151},{"s":"G1Phy","ppm":3.697,"v":131},{"s":"G1Phy","ppm":3.689,"v":180},{"s":"G1Phy","ppm":3.681,"v":131},{"s":"G1Phy","ppm":3.674,"v":151},{"s":"G1Phy","ppm":3.665,"v":166},{"s":"G1Phy","ppm":3.655,"v":136},{"s":"G1Phy","ppm":3.646,"v":153},{"s":"G1Phy","ppm":3.637,"v":160},{"s":"G1Phy","ppm":3.627,"v":134},{"s":"G1Phy","ppm":3.612,"v":196},{"s":"G1Phy","ppm":3.601,"v":149},{"s":"G1Phy","ppm":3.59,"v":188},{"s":"G1Phy","ppm":3.579,"v":143},{"s":"G1Phy","ppm":3.568,"v":173},{"s":"G1Phy","ppm":3.556,"v":136},{"s":"G1Phy","ppm":3.541,"v":196},{"s":"G1Phy","ppm":3.531,"v":171},{"s":"G1Phy","ppm":3.521,"v":136},{"s":"G1Phy","ppm":3.51,"v":153},{"s":"G1Phy","ppm":3.5,"v":123},{"s":"G1Phy","ppm":3.49,"v":126},{"s":"G1Phy","ppm":3.48,"v":120},{"s":"G1Phy","ppm":3.47,"v":126},{"s":"G1Phy","ppm":3.46,"v":118},{"s":"G1Phy","ppm":3.449,"v":133},{"s":"G1Phy","ppm":3.44,"v":120},{"s":"G1Phy","ppm":3.43,"v":122},{"s":"G1Phy","ppm":3.41,"v":117},{"s":"G1Phy","ppm":3.4,"v":119},{"s":"G1Phy","ppm":3.39,"v":117},{"s":"G1Phy","ppm":3.375,"v":124},{"s":"G1Phy","ppm":3.362,"v":129},{"s":"G1Phy","ppm":3.355,"v":122},{"s":"G1Phy","ppm":3.341,"v":140},{"s":"G1Phy","ppm":3.33,"v":124},{"s":"G1Phy","ppm":3.32,"v":126},{"s":"G1Phy","ppm":3.31,"v":128},{"s":"G1Phy","ppm":3.297,"v":135},{"s":"G1Phy","ppm":3.29,"v":129},{"s":"G1Phy","ppm":3.28,"v":133},{"s":"G1Phy","ppm":3.269,"v":151},{"s":"G1Phy","ppm":3.26,"v":125},{"s":"G1Phy","ppm":3.25,"v":130},{"s":"G1Phy","ppm":3.237,"v":115},{"s":"G1Phy","ppm":3.2,"v":114},{"s":"G1Phy","ppm":3.156,"v":114},
{"s":"G3Phy","ppm":5.057,"v":29},{"s":"G3Phy","ppm":4.95,"v":29},{"s":"G3Phy","ppm":4.9,"v":30},{"s":"G3Phy","ppm":4.87,"v":31},{"s":"G3Phy","ppm":4.85,"v":33},{"s":"G3Phy","ppm":4.832,"v":38},{"s":"G3Phy","ppm":4.82,"v":43},{"s":"G3Phy","ppm":4.811,"v":63},{"s":"G3Phy","ppm":4.803,"v":200},{"s":"G3Phy","ppm":4.797,"v":385},{"s":"G3Phy","ppm":4.795,"v":398},{"s":"G3Phy","ppm":4.784,"v":398},{"s":"G3Phy","ppm":4.782,"v":385},{"s":"G3Phy","ppm":4.776,"v":200},{"s":"G3Phy","ppm":4.771,"v":70},{"s":"G3Phy","ppm":4.762,"v":40},{"s":"G3Phy","ppm":4.746,"v":32},{"s":"G3Phy","ppm":4.72,"v":30},{"s":"G3Phy","ppm":4.65,"v":29},{"s":"G3Phy","ppm":4.6,"v":29},{"s":"G3Phy","ppm":4.591,"v":33},{"s":"G3Phy","ppm":4.58,"v":29},{"s":"G3Phy","ppm":4.35,"v":29},{"s":"G3Phy","ppm":4.3,"v":31},{"s":"G3Phy","ppm":4.25,"v":30},{"s":"G3Phy","ppm":4.2,"v":33},{"s":"G3Phy","ppm":4.18,"v":31},{"s":"G3Phy","ppm":4.15,"v":33},{"s":"G3Phy","ppm":4.1,"v":29},{"s":"G3Phy","ppm":4.085,"v":32},{"s":"G3Phy","ppm":4.079,"v":38},{"s":"G3Phy","ppm":4.071,"v":46},{"s":"G3Phy","ppm":4.06,"v":40},{"s":"G3Phy","ppm":4.051,"v":43},{"s":"G3Phy","ppm":4.04,"v":35},{"s":"G3Phy","ppm":4.02,"v":37},{"s":"G3Phy","ppm":4.005,"v":33},{"s":"G3Phy","ppm":3.99,"v":36},{"s":"G3Phy","ppm":3.98,"v":40},{"s":"G3Phy","ppm":3.968,"v":40},{"s":"G3Phy","ppm":3.956,"v":45},{"s":"G3Phy","ppm":3.944,"v":50},{"s":"G3Phy","ppm":3.932,"v":71},{"s":"G3Phy","ppm":3.924,"v":68},{"s":"G3Phy","ppm":3.911,"v":87},{"s":"G3Phy","ppm":3.901,"v":71},{"s":"G3Phy","ppm":3.891,"v":60},{"s":"G3Phy","ppm":3.879,"v":57},{"s":"G3Phy","ppm":3.87,"v":48},{"s":"G3Phy","ppm":3.857,"v":51},{"s":"G3Phy","ppm":3.844,"v":41},{"s":"G3Phy","ppm":3.832,"v":33},{"s":"G3Phy","ppm":3.82,"v":31},{"s":"G3Phy","ppm":3.806,"v":41},{"s":"G3Phy","ppm":3.793,"v":55},{"s":"G3Phy","ppm":3.783,"v":50},{"s":"G3Phy","ppm":3.769,"v":63},{"s":"G3Phy","ppm":3.762,"v":43},{"s":"G3Phy","ppm":3.75,"v":70},{"s":"G3Phy","ppm":3.742,"v":40},{"s":"G3Phy","ppm":3.73,"v":47},{"s":"G3Phy","ppm":3.715,"v":56},{"s":"G3Phy","ppm":3.708,"v":40},{"s":"G3Phy","ppm":3.7,"v":50},{"s":"G3Phy","ppm":3.689,"v":98},{"s":"G3Phy","ppm":3.68,"v":46},{"s":"G3Phy","ppm":3.669,"v":51},{"s":"G3Phy","ppm":3.654,"v":93},{"s":"G3Phy","ppm":3.647,"v":55},{"s":"G3Phy","ppm":3.639,"v":117},{"s":"G3Phy","ppm":3.632,"v":76},{"s":"G3Phy","ppm":3.624,"v":71},{"s":"G3Phy","ppm":3.61,"v":66},{"s":"G3Phy","ppm":3.604,"v":40},{"s":"G3Phy","ppm":3.587,"v":91},{"s":"G3Phy","ppm":3.578,"v":43},{"s":"G3Phy","ppm":3.565,"v":81},{"s":"G3Phy","ppm":3.558,"v":46},{"s":"G3Phy","ppm":3.546,"v":75},{"s":"G3Phy","ppm":3.536,"v":46},{"s":"G3Phy","ppm":3.526,"v":43},{"s":"G3Phy","ppm":3.52,"v":33},{"s":"G3Phy","ppm":3.51,"v":30},{"s":"G3Phy","ppm":3.45,"v":29},{"s":"G3Phy","ppm":3.35,"v":29},{"s":"G3Phy","ppm":3.325,"v":30},{"s":"G3Phy","ppm":3.32,"v":38},{"s":"G3Phy","ppm":3.31,"v":30},{"s":"G3Phy","ppm":3.297,"v":44},{"s":"G3Phy","ppm":3.285,"v":30},{"s":"G3Phy","ppm":3.272,"v":36},{"s":"G3Phy","ppm":3.26,"v":29},{"s":"G3Phy","ppm":3.156,"v":29}
  ]
},
"vconcat": [
  {
    "width": 617, "height": 356,
    "resolve": {"axis": {"x": "independent"}},
    "layer": [
      {
        "data": {"name": "specA"},
        "mark": {"type": "line", "strokeWidth": 1, "clip": true},
        "encoding": {
          "x": {"field": "ppm", "type": "quantitative", "title": "Chemical shift (ppm)",
            "scale": {"domain": [60.16, 83], "reverse": true, "nice": false, "zero": false},
            "axis": {"orient": "bottom", "values": [62,64,66,68,70,72,74,76,78,80,82], "format": "d", "tickSize": 5, "labelOverlap": false}},
          "y": {"field": "v", "type": "quantitative", "scale": {"domain": [0, 356], "nice": false, "zero": false}, "axis": null},
          "color": {"field": "s", "type": "nominal", "scale": {"domain": ["G", "PA", "G1Phy", "G3Phy"], "range": ["#ff0000", "#000000", "#0000ff", "#008b8b"]}, "legend": null}
        }
      },
      {
        "data": {"name": "labA"},
        "mark": {"type": "text", "align": "left", "baseline": "middle", "fontSize": 20, "fontWeight": "bold", "font": "Liberation Sans"},
        "encoding": {
          "x": {"field": "ppm", "type": "quantitative",
            "axis": {"orient": "bottom", "values": [61,63,65,67,69,71,73,75,77,79,81], "labels": false, "domain": false, "tickSize": 3, "title": null}},
          "y": {"field": "v", "type": "quantitative"},
          "text": {"field": "t"},
          "color": {"field": "s", "type": "nominal", "legend": null}
        }
      },
      {
        "data": {"name": "tags"},
        "transform": [{"filter": "datum.panel === 'a'"}],
        "mark": {"type": "text", "align": "left", "baseline": "middle", "fontSize": 22, "fontWeight": "bold", "font": "Liberation Sans", "color": "#000000"},
        "encoding": {
          "x": {"field": "ppm", "type": "quantitative", "axis": null},
          "y": {"field": "v", "type": "quantitative"},
          "text": {"field": "t"}
        }
      }
    ]
  },
  {
    "width": 617, "height": 385,
    "layer": [
      {
        "data": {"name": "specB"},
        "mark": {"type": "line", "strokeWidth": 1, "clip": true},
        "encoding": {
          "x": {"field": "ppm", "type": "quantitative", "title": "Chemical shift (ppm)",
            "scale": {"domain": [3.156, 5.057], "reverse": true, "nice": false, "zero": false},
            "axis": {"values": [3.2, 3.4, 3.6, 3.8, 4.0, 4.2, 4.4, 4.6, 4.8, 5.0], "format": ".1f", "tickSize": 5, "labelOverlap": false}},
          "y": {"field": "v", "type": "quantitative", "scale": {"domain": [0, 385], "nice": false, "zero": false}, "axis": null},
          "color": {"field": "s", "type": "nominal", "scale": {"domain": ["G", "PA", "G1Phy", "G3Phy"], "range": ["#ff0000", "#000000", "#0000ff", "#008b8b"]}, "legend": null}
        }
      },
      {
        "data": {"name": "labB"},
        "mark": {"type": "text", "align": "left", "baseline": "middle", "fontSize": 20, "fontWeight": "bold", "font": "Liberation Sans"},
        "encoding": {
          "x": {"field": "ppm", "type": "quantitative"},
          "y": {"field": "v", "type": "quantitative"},
          "text": {"field": "t"},
          "color": {"field": "s", "type": "nominal", "legend": null}
        }
      },
      {
        "data": {"name": "tags"},
        "transform": [{"filter": "datum.panel === 'b'"}],
        "mark": {"type": "text", "align": "left", "baseline": "middle", "fontSize": 22, "fontWeight": "bold", "font": "Liberation Sans", "color": "#000000"},
        "encoding": {
          "x": {"field": "ppm", "type": "quantitative"},
          "y": {"field": "v", "type": "quantitative"},
          "text": {"field": "t"}
        }
      }
    ]
  }
]
}
